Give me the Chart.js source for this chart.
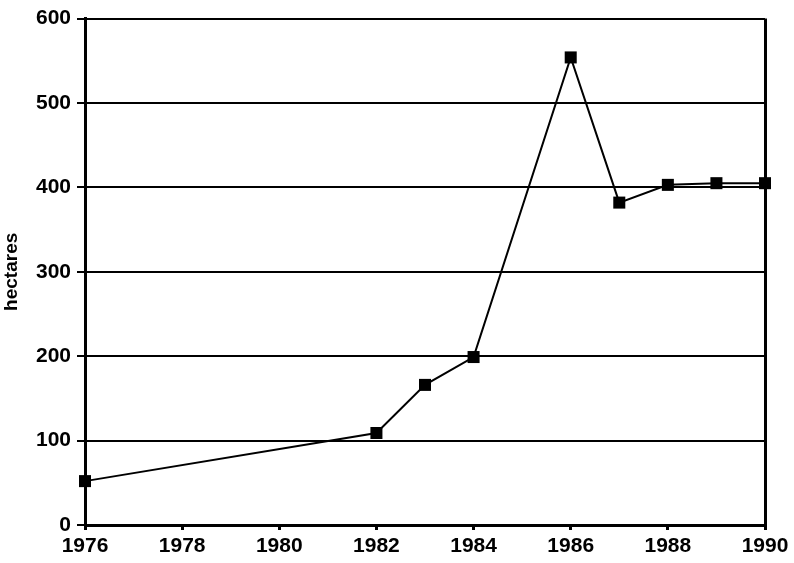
<!DOCTYPE html>
<html>
<head>
<meta charset="utf-8">
<script src="https://cdn.jsdelivr.net/npm/chart.js@4"></script>
<style>
  html, body { margin: 0; padding: 0; background: #fff; }
  #wrap { width: 794px; height: 563px; position: relative; }
</style>
</head>
<body>
<div id="wrap"><canvas id="c" width="794" height="563"></canvas></div>
<script>
// values
const years = [1976, 1982, 1983, 1984, 1986, 1987, 1988, 1989, 1990];
const hectares = [52, 109, 166, 199, 554, 382, 403, 405, 405];
const yTicks = [0, 100, 200, 300, 400, 500, 600];
const xTicks = [1976, 1978, 1980, 1982, 1984, 1986, 1988, 1990];

const points = years.map(function (y, i) { return { x: y, y: hectares[i] }; });
const font = { family: 'Liberation Sans, Arial, sans-serif', weight: 'bold', size: 21 };

new Chart(document.getElementById('c'), {
    type: 'line',
    data: {
        datasets: [{
            data: points,
            borderColor: '#000',
            borderWidth: 2,
            backgroundColor: '#000',
            pointStyle: 'rect',
            pointRadius: 8.5,
            pointBorderWidth: 0,
            tension: 0,
            clip: false
        }]
    },
    options: {
        responsive: false,
        animation: false,
        layout: { padding: { top: 18, right: 29, left: 0, bottom: 0 } },
        plugins: { legend: { display: false }, tooltip: { enabled: false } },
        scales: {
            x: {
                type: 'linear',
                min: xTicks[0],
                max: xTicks[xTicks.length - 1],
                afterBuildTicks: function (axis) { axis.ticks = xTicks.map(function (v) { return { value: v }; }); },
                afterFit: function (axis) { axis.height = 38; },
                ticks: { color: '#000', font: font, padding: 4, maxRotation: 0, callback: function (v) { return String(v); } },
                grid: {
                    color: function (ctx) { return ctx.index === xTicks.length - 1 ? '#000' : 'rgba(0,0,0,0)'; },
                    lineWidth: 3,
                    tickColor: '#000',
                    tickLength: 5,
                    drawTicks: true
                },
                border: { display: true, color: '#000', width: 3 }
            },
            y: {
                min: 0,
                max: 600,
                afterBuildTicks: function (axis) { axis.ticks = yTicks.map(function (v) { return { value: v }; }); },
                afterFit: function (axis) { axis.width = 85; },
                ticks: { color: '#000', font: font, padding: 6 },
                grid: { color: '#000', lineWidth: 2, tickLength: 8, tickColor: '#000' },
                border: { display: true, color: '#000', width: 3 },
                title: {
                    display: true,
                    text: 'hectares',
                    color: '#000',
                    font: { family: 'Liberation Sans, Arial, sans-serif', weight: 'bold', size: 19 },
                    padding: { top: 0, bottom: 0 }
                }
            }
        }
    }
});
</script>
</body>
</html>
